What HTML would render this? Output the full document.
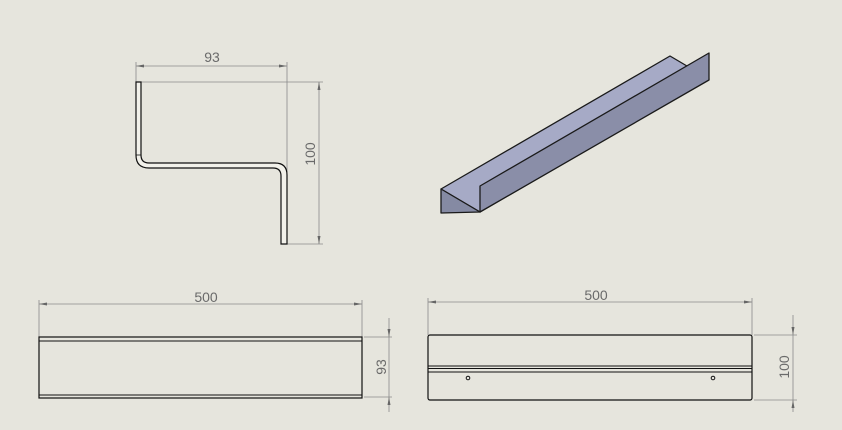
<!DOCTYPE html>
<html><head><style>
html,body{margin:0;padding:0;background:#e6e5dd;}
svg{display:block}
text{font-family:"Liberation Sans",sans-serif;fill:#6a6a6a;font-size:14px}
</style></head><body>
<svg width="842" height="430" viewBox="0 0 842 430">
<rect width="842" height="430" fill="#e6e5dd"/>
<g stroke="#8a8a8a" stroke-width="0.8" fill="none">
<line x1="136" y1="62" x2="136" y2="82"/>
<line x1="287" y1="62" x2="287" y2="172"/>
<line x1="136" y1="66" x2="287" y2="66"/>
<line x1="141" y1="82" x2="323" y2="82"/>
<line x1="287" y1="244" x2="323" y2="244"/>
<line x1="319" y1="82" x2="319" y2="244"/>
<line x1="39" y1="300" x2="39" y2="337"/>
<line x1="362" y1="300" x2="362" y2="337"/>
<line x1="39" y1="304" x2="362" y2="304"/>
<line x1="364" y1="337" x2="392" y2="337"/>
<line x1="364" y1="397" x2="392" y2="397"/>
<line x1="389" y1="318" x2="389" y2="412"/>
<line x1="428" y1="298" x2="428" y2="335"/>
<line x1="752" y1="298" x2="752" y2="335"/>
<line x1="428" y1="302" x2="752" y2="302"/>
<line x1="754" y1="335" x2="797" y2="335"/>
<line x1="754" y1="400" x2="797" y2="400"/>
<line x1="793" y1="315" x2="793" y2="412"/>
</g>
<g fill="#666">
<path d="M136 66 l8 -1.5 v3z"/><path d="M287 66 l-8 -1.5 v3z"/>
<path d="M319 82 l-1.5 8 h3z"/><path d="M319 244 l-1.5 -8 h3z"/>
<path d="M39 304 l8 -1.5 v3z"/><path d="M362 304 l-8 -1.5 v3z"/>
<path d="M389 337 l-1.5 -8 h3z"/><path d="M389 397 l-1.5 8 h3z"/>
<path d="M428 302 l8 -1.5 v3z"/><path d="M752 302 l-8 -1.5 v3z"/>
<path d="M793 335 l-1.5 -8 h3z"/><path d="M793 400 l-1.5 8 h3z"/>
</g>
<text x="212" y="62" text-anchor="middle">93</text>
<text x="206" y="302" text-anchor="middle">500</text>
<text x="596" y="300" text-anchor="middle">500</text>
<text transform="translate(315,154) rotate(-90)" text-anchor="middle">100</text>
<text transform="translate(386,367) rotate(-90)" text-anchor="middle">93</text>
<text transform="translate(789,367) rotate(-90)" text-anchor="middle">100</text>
<path d="M136 82 H141 V155 Q141 163 149 163 H275 Q287 163 287 175 V244 H281 V176 Q281 168 273 168 H149 Q136 168 136 155 Z" fill="#f2f1ea" stroke="#111" stroke-width="1.2"/>
<line x1="141" y1="155" x2="136" y2="155" stroke="#111" stroke-width="0.8"/>
<g stroke="#1a1a1a" stroke-width="1.3" stroke-linejoin="round">
<polygon points="441,189 670,56 709,79 480,212" fill="#a6aac6"/>
<polygon points="441,189 480,212 441,213" fill="#858aa3"/>
<polygon points="480,186 709,53 709,80 480,212" fill="#8a8ea8"/>
</g>
<g stroke="#111" fill="none">
<rect x="39" y="337" width="323" height="61" stroke-width="1.2"/>
<line x1="39" y1="341" x2="362" y2="341" stroke-width="1"/>
<line x1="39" y1="395" x2="362" y2="395" stroke-width="1"/>
</g>
<g stroke="#111" fill="none">
<rect x="428" y="335" width="324" height="65" rx="2" stroke-width="1.2"/>
<line x1="428" y1="366" x2="752" y2="366" stroke-width="1"/>
<line x1="428" y1="368.5" x2="752" y2="368.5" stroke-width="1"/>
<line x1="428" y1="372" x2="752" y2="372" stroke-width="1"/>
<circle cx="468" cy="378" r="1.8" stroke-width="1"/>
<circle cx="713" cy="378" r="1.8" stroke-width="1"/>
</g>
</svg>
</body></html>
